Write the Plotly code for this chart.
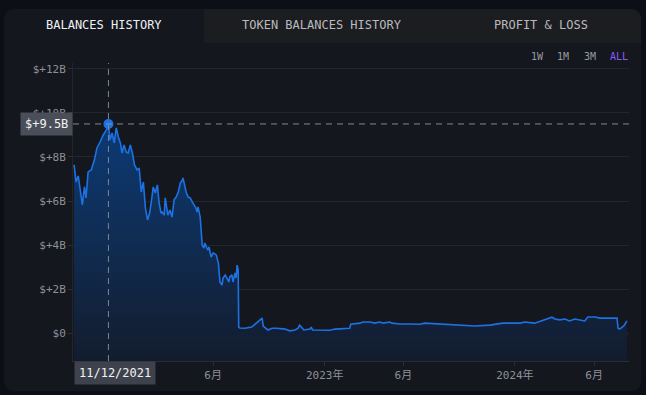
import plotly.graph_objects as go

# ---------------- data ----------------
dates = [
    "2021-09-07", "2021-09-11", "2021-09-15", "2021-09-19", "2021-09-23", "2021-09-27", "2021-09-30",
    "2021-10-04", "2021-10-10", "2021-10-16", "2021-10-21", "2021-10-27",
    "2021-11-02", "2021-11-08", "2021-11-12", "2021-11-15", "2021-11-19", "2021-11-23", "2021-11-27",
    "2021-12-01", "2021-12-05", "2021-12-08", "2021-12-12", "2021-12-16", "2021-12-20", "2021-12-24", "2021-12-28",
    "2022-01-01", "2022-01-06", "2022-01-10", "2022-01-14", "2022-01-18", "2022-01-22", "2022-01-26", "2022-01-30",
    "2022-02-02", "2022-02-06", "2022-02-10", "2022-02-14", "2022-02-17", "2022-02-21", "2022-02-23", "2022-02-27",
    "2022-03-01", "2022-03-04", "2022-03-06", "2022-03-10", "2022-03-14", "2022-03-18", "2022-03-22", "2022-03-26", "2022-03-30",
    "2022-04-03", "2022-04-04", "2022-04-08", "2022-04-10", "2022-04-14", "2022-04-18", "2022-04-22", "2022-04-25", "2022-04-29",
    "2022-05-01", "2022-05-03", "2022-05-07", "2022-05-09", "2022-05-11", "2022-05-14", "2022-05-16", "2022-05-20",
    "2022-05-22", "2022-05-24", "2022-05-28",
    "2022-06-01", "2022-06-05", "2022-06-07", "2022-06-11", "2022-06-12", "2022-06-14", "2022-06-18", "2022-06-20",
    "2022-06-24", "2022-06-28",
    "2022-07-01", "2022-07-03", "2022-07-07", "2022-07-09", "2022-07-13", "2022-07-15", "2022-07-17", "2022-07-19",
    "2022-07-20", "2022-07-22",
    "2022-08-01", "2022-08-14", "2022-08-20", "2022-08-26", "2022-09-03", "2022-09-05", "2022-09-08", "2022-09-14",
    "2022-09-22", "2022-10-01", "2022-10-17", "2022-10-26", "2022-11-05", "2022-11-11", "2022-11-14", "2022-11-18",
    "2022-11-22", "2022-12-04", "2022-12-06", "2022-12-09", "2022-12-23",
    "2023-01-11", "2023-01-21", "2023-02-09", "2023-02-18", "2023-02-20", "2023-02-28", "2023-03-10", "2023-03-15",
    "2023-03-29", "2023-04-07", "2023-04-17", "2023-04-23", "2023-05-06", "2023-05-10", "2023-05-25", "2023-06-14",
    "2023-07-03", "2023-07-12", "2023-08-10", "2023-09-18", "2023-10-16", "2023-11-14", "2023-12-09",
    "2024-01-11", "2024-01-20", "2024-02-08", "2024-02-28", "2024-03-12", "2024-03-18", "2024-03-27", "2024-04-06",
    "2024-04-15", "2024-04-25", "2024-05-14", "2024-05-20", "2024-06-03", "2024-06-12", "2024-07-05", "2024-07-15",
    "2024-07-17", "2024-07-20", "2024-07-28", "2024-08-03",
]

balance_b = [
    7.64, 6.86, 7.14, 6.36, 5.82, 6.64, 6.14,
    7.32, 7.41, 7.86, 8.41, 8.68,
    9.00, 9.23, 9.50, 8.77, 9.09, 8.64, 9.32,
    8.91, 8.64, 8.18, 8.55, 8.23, 8.18, 8.55, 8.18,
    7.64, 7.41, 7.50, 6.41, 6.86, 5.68, 5.14, 5.45,
    5.91, 6.64, 6.36, 6.73, 5.95, 5.45, 5.50, 5.36,
    6.14, 5.73, 5.36, 5.59, 5.27, 6.05, 6.18, 6.41, 6.82,
    6.95, 7.05, 6.64, 6.41, 6.18, 6.14, 5.95, 5.82, 5.68,
    5.50, 5.73, 5.27, 4.68, 4.00, 3.86, 4.09, 3.86,
    3.77, 3.91, 3.45,
    3.64, 3.55, 3.55, 3.18, 2.64, 2.32, 2.18, 2.50,
    2.64, 2.41,
    2.32, 2.55, 2.64, 2.32, 2.73, 2.50, 3.09, 2.86,
    0.27, 0.23,
    0.22, 0.27, 0.40, 0.50, 0.68, 0.32, 0.27, 0.14,
    0.22, 0.22, 0.18, 0.10, 0.14, 0.22, 0.36, 0.27,
    0.14, 0.18, 0.27, 0.14, 0.14,
    0.13, 0.18, 0.20, 0.22, 0.40, 0.41, 0.45, 0.50,
    0.50, 0.45, 0.50, 0.45, 0.50, 0.45, 0.41, 0.41,
    0.40, 0.45, 0.41, 0.36, 0.32, 0.36, 0.45,
    0.45, 0.50, 0.45, 0.60, 0.72, 0.64, 0.60, 0.64,
    0.55, 0.64, 0.55, 0.73, 0.73, 0.68, 0.68, 0.68,
    0.22, 0.18, 0.32, 0.55,
]

y_tick_vals = [0, 2, 4, 6, 8, 10, 12]
y_tick_text = ["$0", "$+2B", "$+4B", "$+6B", "$+8B", "$+10B", "$+12B"]
x_tick_vals = ["2022-06-01", "2023-01-01", "2023-06-01", "2024-01-01", "2024-06-01"]
x_tick_text = ["6月", "2023年", "6月", "2024年", "6月"]
tab_labels = ["BALANCES HISTORY", "TOKEN BALANCES HISTORY", "PROFIT & LOSS"]
range_labels = ["1W", "1M", "3M", "ALL"]

X_RANGE = ["2021-09-05", "2024-08-07"]
Y_RANGE = [-1.27, 12.27]

# ---------------- layout geometry ----------------
W, H = 646, 395
ML, MR, MT, MB = 73, 17, 63, 34
PW, PH = W - ML - MR, H - MT - MB

def px(x):
    return (x - ML) / PW

def py(y):
    return (H - MB - y) / PH

MONO = "DejaVu Sans Mono, Noto Sans CJK SC, monospace"
OUTER_BG = "#0c0f16"
CARD_BG = "#14171e"
TAB_BG = "#1c1d21"
GRID = "#23262d"
LINE = "#1c72e4"

peak_i = max(range(len(balance_b)), key=lambda i: balance_b[i])
peak_date = dates[peak_i]
peak_val = balance_b[peak_i]
yy, mm, dd = peak_date.split("-")
peak_date_label = f"{mm}/{dd}/{yy}"
peak_val_label = f"$+{peak_val:.1f}B"

fig = go.Figure()

# baseline for fill down to bottom of plot
fig.add_trace(go.Scatter(
    x=dates, y=[Y_RANGE[0]] * len(dates), mode="lines",
    line=dict(width=0), hoverinfo="skip", showlegend=False,
))
fig.add_trace(go.Scatter(
    x=dates, y=balance_b, mode="lines",
    line=dict(color=LINE, width=1.6),
    fill="tonexty",
    fillgradient=dict(
        type="vertical",
        start=Y_RANGE[0], stop=peak_val,
        colorscale=[[0, "rgb(19,28,46)"], [0.5, "rgb(16,44,82)"], [1, "rgb(12,58,116)"]],
    ),
    showlegend=False,
))
fig.add_trace(go.Scatter(
    x=[peak_date], y=[peak_val], mode="markers",
    marker=dict(color="#1c72e4", size=10), showlegend=False,
))

shapes = []

def rounded_rect(x0, y0, x1, y1, r, corners=(True, True, True, True)):
    tl, tr, br, bl = corners
    p = []
    p.append(f"M{px(x0 + (r if tl else 0))},{py(y0)}")
    p.append(f"L{px(x1 - (r if tr else 0))},{py(y0)}")
    if tr:
        p.append(f"Q{px(x1)},{py(y0)} {px(x1)},{py(y0 + r)}")
    p.append(f"L{px(x1)},{py(y1 - (r if br else 0))}")
    if br:
        p.append(f"Q{px(x1)},{py(y1)} {px(x1 - r)},{py(y1)}")
    p.append(f"L{px(x0 + (r if bl else 0))},{py(y1)}")
    if bl:
        p.append(f"Q{px(x0)},{py(y1)} {px(x0)},{py(y1 - r)}")
    p.append(f"L{px(x0)},{py(y0 + (r if tl else 0))}")
    if tl:
        p.append(f"Q{px(x0)},{py(y0)} {px(x0 + r)},{py(y0)}")
    p.append("Z")
    return " ".join(p)

shapes.append(dict(type="path", xref="paper", yref="paper", layer="below",
                   path=rounded_rect(4, 9, 641, 391, 11), fillcolor=CARD_BG, line=dict(width=0)))
shapes.append(dict(type="path", xref="paper", yref="paper", layer="below",
                   path=rounded_rect(204, 9, 641, 43, 11, (False, True, False, False)),
                   fillcolor=TAB_BG, line=dict(width=0)))

# crosshair lines
shapes.append(dict(type="line", xref="paper", yref="y", x0=0, x1=1, y0=peak_val, y1=peak_val,
                   line=dict(color="#858a94", width=1, dash="6px,5px"), layer="above"))
shapes.append(dict(type="line", xref="x", yref="paper", x0=peak_date, x1=peak_date, y0=0, y1=1,
                   line=dict(color="#7b8796", width=1, dash="6px,5px"), layer="above"))

annotations = []
tab_centers = [104, 322, 541]
for i, (lab, cx) in enumerate(zip(tab_labels, tab_centers)):
    annotations.append(dict(
        text=lab, xref="paper", yref="paper", x=px(cx), y=py(25), showarrow=False,
        xanchor="center", yanchor="middle",
        font=dict(family=MONO, size=12, color="#f0f0f2" if i == 0 else "#b9babd"),
    ))

range_x = [537, 563, 590, 619]
for lab, cx in zip(range_labels, range_x):
    annotations.append(dict(
        text=lab, xref="paper", yref="paper", x=px(cx), y=py(56), showarrow=False,
        xanchor="center", yanchor="middle",
        font=dict(family=MONO, size=10, color="#8b5cf6" if lab == "ALL" else "#9a9ca1"),
    ))

annotations.append(dict(
    text=peak_val_label, xref="paper", yref="y", x=0, y=peak_val, showarrow=False,
    xanchor="right", yanchor="middle", bgcolor="#4a4e59", borderpad=4,
    font=dict(family=MONO, size=12, color="#f2f2f4"),
))
annotations.append(dict(
    text=peak_date_label, xref="paper", yref="paper", x=0, y=0, showarrow=False,
    xanchor="left", yanchor="top", xshift=1, bgcolor="#3e424c", borderpad=4,
    font=dict(family=MONO, size=12, color="#f2f2f4"),
))

fig.update_layout(
    width=W, height=H,
    margin=dict(l=ML, r=MR, t=MT, b=MB),
    paper_bgcolor=OUTER_BG,
    plot_bgcolor="rgba(0,0,0,0)",
    showlegend=False,
    shapes=shapes,
    annotations=annotations,
    font=dict(family=MONO, color="#8e9096", size=11),
    xaxis=dict(
        type="date", range=X_RANGE,
        tickvals=x_tick_vals, ticktext=x_tick_text,
        showgrid=False, zeroline=False,
        showline=True, linecolor="#2a2d35", linewidth=1,
        ticks="outside", ticklen=4, tickcolor="#2a2d35",
        tickfont=dict(family=MONO, size=11, color="#8e9096"),
    ),
    yaxis=dict(
        range=Y_RANGE,
        tickvals=y_tick_vals, ticktext=y_tick_text,
        showgrid=True, gridcolor=GRID, gridwidth=1, zeroline=False,
        showline=True, linecolor="#22252d", linewidth=1,
        ticks="outside", ticklen=4, tickcolor="#2a2d35",
        tickfont=dict(family=MONO, size=11, color="#8e9096"),
    ),
)

fig.write_html(
    "out.html",
    config={"displayModeBar": False},
    post_script="document.body.style.margin='0';document.body.style.background='#0c0f16';document.body.style.overflow='hidden';",
)
